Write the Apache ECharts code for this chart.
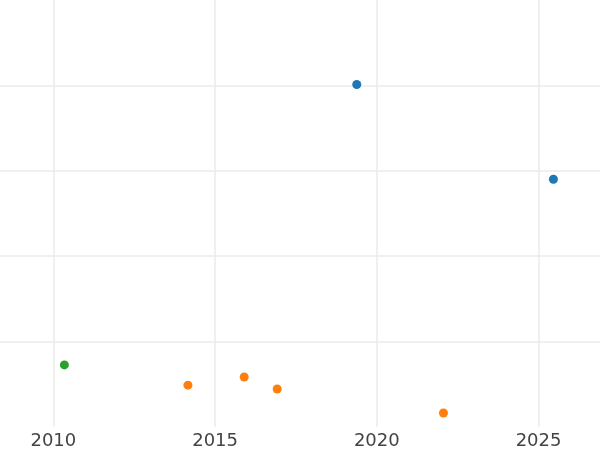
<!DOCTYPE html>
<html>
<head>
<meta charset="utf-8">
<script src="https://cdn.jsdelivr.net/npm/echarts@6/dist/echarts.min.js"></script>
<style>html,body{margin:0;padding:0;background:#fff;}#c{width:600px;height:450px;}</style>
</head>
<body>
<div id="c"></div>
<script>
const blueYears = [2019.38, 2025.46];
const blueValues = [4.01, 2.90];
const orangeYears = [2014.16, 2015.90, 2016.92, 2022.06];
const orangeValues = [0.49, 0.586, 0.445, 0.164];
const greenYears = [2010.34];
const greenValues = [0.727];
const xTicks = [2010, 2015, 2020, 2025];
const xMin = 2008.35, xMax = 2026.9;
const yMin = 0, yMax = 4.999;

const zip = (a, b) => a.map((v, i) => [v, b[i]]);
const chart = echarts.init(document.getElementById('c'), null, {renderer: 'canvas'});
const gridColor = '#ebebeb';
chart.setOption({
  animation: false,
  backgroundColor: '#ffffff',
  grid: {left: 0, right: 0, top: 0, bottom: 22, containLabel: false},
  xAxis: {
    type: 'value', min: xMin, max: xMax,
    axisLine: {show: false},
    axisTick: {show: false, customValues: xTicks},
    axisLabel: {customValues: xTicks, color: '#444444', fontSize: 18, fontFamily: 'DejaVu Sans', margin: 5, formatter: v => String(v)},
    splitLine: {show: true, showMinLine: true, showMaxLine: true, lineStyle: {color: gridColor, width: 1.5}}
  },
  yAxis: {
    type: 'value', min: yMin, max: yMax, interval: 1,
    axisLine: {show: false}, axisTick: {show: false}, axisLabel: {show: false},
    splitLine: {show: true, showMinLine: false, showMaxLine: false, lineStyle: {color: gridColor, width: 1.5}}
  },
  series: [
    {type: 'scatter', data: zip(blueYears, blueValues), symbolSize: 9, itemStyle: {color: '#1f77b4', opacity: 1}},
    {type: 'scatter', data: zip(orangeYears, orangeValues), symbolSize: 9, itemStyle: {color: '#ff7f0e', opacity: 1}},
    {type: 'scatter', data: zip(greenYears, greenValues), symbolSize: 9, itemStyle: {color: '#2ca02c', opacity: 1}}
  ]
});
</script>
</body>
</html>
